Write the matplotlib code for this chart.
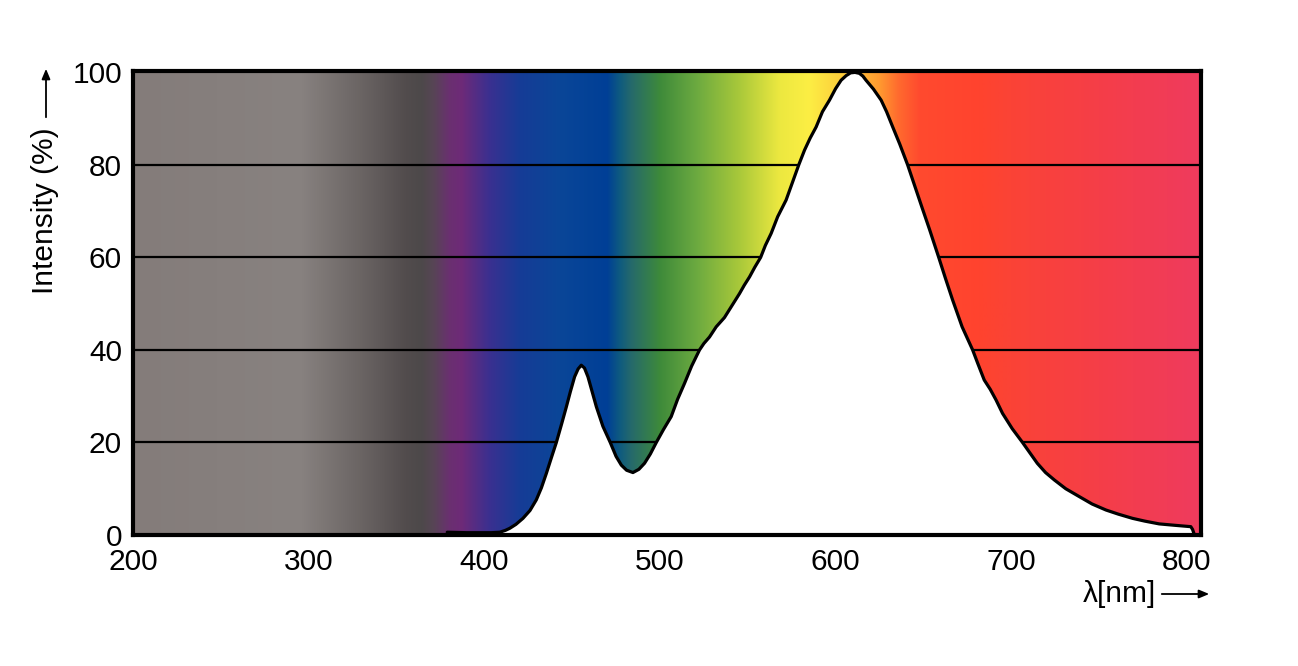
import matplotlib
matplotlib.use("Agg")
import matplotlib.pyplot as plt
import numpy as np
from matplotlib.colors import to_rgb

plt.rcParams['font.family'] = ['Liberation Sans', 'DejaVu Sans']

# spectrum (wavelength nm, relative intensity %)
wavelength = [378.9, 390, 400, 404, 408.8, 412, 414.5, 418, 422, 426, 429.6, 432.5, 435.3,
              438, 441, 444, 446.7, 449, 451.4, 453.4, 455.2, 457, 459, 461, 463.8, 467.5,
              471.7, 475, 478, 481, 484.6, 488, 491.2, 494.5, 497.9, 502, 506.4, 510, 514,
              518, 522.5, 525, 528.2, 532, 536.7, 541, 545.3, 548, 551, 554, 557.3, 560,
              563.3, 567, 571.8, 575.5, 579, 582.3, 585.5, 588.9, 592.5, 596.5, 600, 603.1,
              606, 608.5, 611, 613.5, 615.5, 617.3, 621.5, 625.9, 629, 632.5, 636.5, 641,
              645, 649, 653.5, 658.7, 662.5, 666.6, 672, 678, 681, 684.6, 688, 691.3, 695,
              700.5, 706.4, 710.5, 714.8, 719.5, 724.5, 731, 738.7, 746, 753.9, 761, 769,
              776, 784.2, 793, 802.2, 803.2, 804]
intensity = [0.6, 0.5, 0.5, 0.5, 0.6, 1.0, 1.45, 2.3, 3.6, 5.3, 7.6, 10.2, 13.3,
             16.5, 20, 24, 27.7, 31, 34.2, 35.9, 36.7, 36.1, 34.2, 31.5, 27.7, 23.5,
             20, 17, 15.1, 14, 13.5, 14.2, 15.5, 17.5, 20, 22.8, 25.6, 29.3, 32.8,
             36.5, 40, 41.4, 42.8, 45, 47.0, 49.6, 52.2, 54, 55.8, 57.9, 60, 62.6,
             65.2, 68.8, 72.4, 76.3, 80, 83.2, 85.8, 88.2, 91.5, 94, 96.5, 98.3,
             99.3, 99.9, 100, 99.8, 99.2, 98.3, 96.4, 94, 91.5, 88.2, 84.5, 80,
             75.5, 71, 66, 60, 55.5, 50.8, 45, 40, 37, 33.5, 31.5, 29.2, 26.3,
             23, 20, 17.8, 15.5, 13.5, 11.9, 10, 8.3, 6.7, 5.4, 4.5, 3.6,
             3.0, 2.4, 2.1, 1.8, 1.2, 0.3]

# background colour stops
stop_nm = [200, 295, 330, 355, 364, 371, 380, 387, 403, 420, 443, 470, 477, 484, 500,
           521, 545, 568, 585, 602, 617, 625, 636, 648, 682, 700, 750, 808]
stop_col = ['#847c7a', '#888280', '#6a6463', '#524c4d', '#4d494a', '#574555', '#6a3070',
            '#6e2a78', '#3a3090', '#163c96', '#0a4698', '#003f96', '#0e5a80', '#266a6a',
            '#3e8a3a', '#6caa40', '#a8c83a', '#ece840', '#fcee44', '#fdd03c', '#ffb035',
            '#ff9a30', '#ff6a2e', '#ff4a2e', '#ff432e', '#fb4336', '#f53e48', '#ef3b5e']

yticks = [0, 20, 40, 60, 80, 100]
xticks = [200, 300, 400, 500, 600, 700, 800]

xmin, xmax = 200, 808
ymax = 100.3

fig = plt.figure(figsize=(12.98, 6.66), dpi=100)
ax = fig.add_axes([133/1298, 1-535/666, (1201-133)/1298, (535-71)/666])

cols = np.array([to_rgb(c) for c in stop_col])
xs = np.linspace(xmin, xmax, 1200)
grad = np.stack([np.interp(xs, stop_nm, cols[:, k]) for k in range(3)], axis=-1)[None, :, :]
ax.imshow(grad, extent=[xmin, xmax, 0, ymax], aspect='auto', interpolation='bilinear', zorder=0)

for yv in yticks[1:-1]:
    ax.axhline(yv, color='black', lw=1.6, zorder=1)

ax.fill_between(wavelength, intensity, 0, color='white', zorder=2, lw=0)
ax.plot(wavelength, intensity, color='black', lw=2.3, zorder=3,
        solid_joinstyle='round', solid_capstyle='round')

ax.set_xlim(xmin, xmax)
ax.set_ylim(0, ymax)
ax.set_xticks(xticks)
ax.set_yticks(yticks)
ax.tick_params(length=0, labelsize=21.5)
ax.tick_params(axis='x', pad=9)
ax.tick_params(axis='y', pad=8)
for s in ax.spines.values():
    s.set_linewidth(3)
    s.set_zorder(5)

# axis captions with arrows
fig.text(45/1298, 1-211/666, 'Intensity (%)', rotation=90, fontsize=21.5,
         ha='center', va='center')
fig.add_artist(matplotlib.patches.FancyArrowPatch(
    (46/1298, 1-120/666), (46/1298, 1-66/666), transform=fig.transFigure,
    arrowstyle='-|>,head_length=6,head_width=2.5', color='black', lw=1.3))
fig.text(1156/1298, 1-594/666, 'λ[nm]', fontsize=21.5, ha='right', va='center')
fig.add_artist(matplotlib.patches.FancyArrowPatch(
    (1159/1298, 1-594/666), (1212/1298, 1-594/666), transform=fig.transFigure,
    arrowstyle='-|>,head_length=6,head_width=2.5', color='black', lw=1.3))

fig.savefig('out.png', dpi=100)
